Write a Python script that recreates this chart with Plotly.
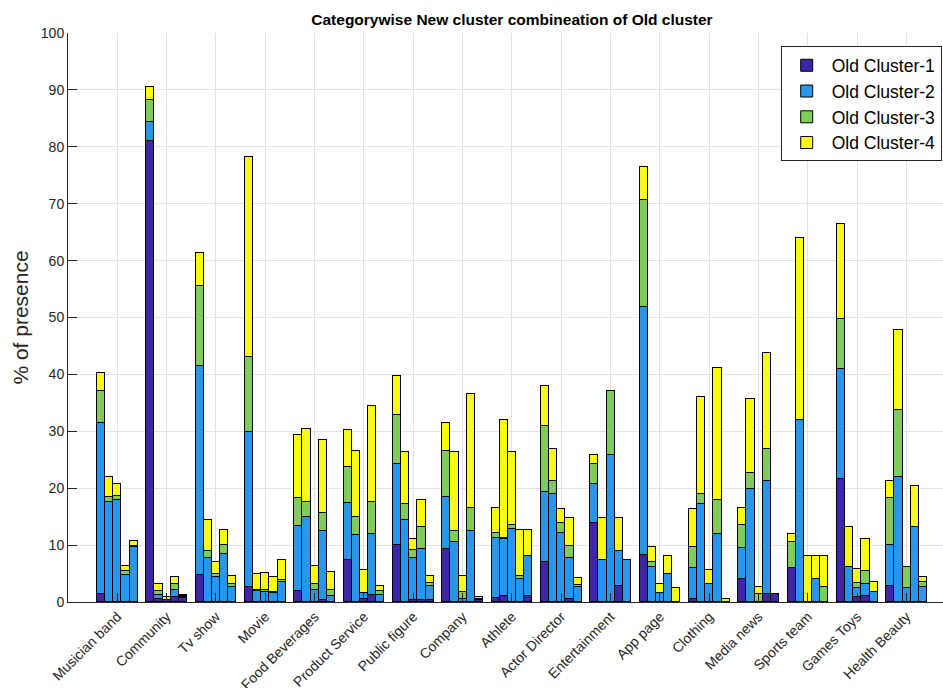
import numpy as np
import plotly.graph_objects as go

categories = ["Musician band", "Community", "Tv show", "Movie", "Food Beverages",
              "Product Service", "Public figure", "Company", "Athlete", "Actor Director",
              "Entertainment", "App page", "Clothing", "Media news", "Sports team",
              "Games Toys", "Health Beauty"]

series_names = ["Old Cluster-1", "Old Cluster-2", "Old Cluster-3", "Old Cluster-4"]

# each row: one category, 5 new-cluster bars
old_cluster_1 = [
    [1.35, 0, 0, 0, 0],
    [81.1, 0.47, 0.3, 0.9, 0.65],
    [4.7, 0, 0, 0, 0],
    [2.6, 0, 0, 0, 0],
    [2.0, 0, 0, 0.35, 0],
    [7.3, 0, 0.5, 1.3, 0],
    [10.1, 0, 0.4, 0.35, 0.35],
    [9.4, 0, 0, 0, 0.35],
    [0.76, 1.1, 0, 0, 1.1],
    [7.0, 0, 0, 0.6, 0],
    [13.8, 0, 0, 2.9, 0],
    [8.2, 0, 0, 0, 0],
    [0.6, 0, 0, 0, 0],
    [4.0, 0, 0, 1.35, 1.35],
    [6.0, 0, 0, 0, 0],
    [21.7, 0, 0.8, 1.0, 0],
    [2.9, 0, 0, 0, 0],
]
old_cluster_2 = [
    [30.05, 17.5, 17.9, 4.75, 9.67],
    [3.2, 0.76, 0, 1.2, 0.3],
    [36.8, 7.8, 4.45, 8.4, 2.7],
    [27.2, 2.0, 1.76, 1.64, 3.6],
    [11.4, 14.9, 2.05, 12.05, 1.1],
    [10.1, 11.7, 1.1, 10.6, 1.2],
    [14.1, 14.4, 7.4, 8.95, 2.55],
    [9.0, 10.5, 0.5, 12.4, 0.2],
    [10.44, 9.9, 12.8, 4.0, 6.9],
    [12.3, 19.0, 12.2, 7.2, 2.6],
    [6.9, 7.4, 25.8, 6.0, 7.4],
    [43.6, 6.15, 1.5, 5.0, 0],
    [5.4, 17.2, 3.1, 11.9, 0],
    [5.5, 19.9, 0, 19.85, 0],
    [0, 32.0, 0, 4.0, 0],
    [19.2, 6.1, 1.7, 2.2, 1.76],
    [7.1, 22.0, 2.5, 13.1, 2.6],
]
old_cluster_3 = [
    [5.7, 1.0, 0.8, 0.75, 0.2],
    [4.0, 0.76, 0.1, 1.0, 0.1],
    [14.1, 1.2, 0.55, 1.6, 0.5],
    [13.3, 0.15, 0.35, 0.1, 0.3],
    [4.8, 2.6, 1.15, 3.2, 0.95],
    [6.4, 3.2, 0, 5.6, 0.8],
    [8.6, 2.8, 1.4, 3.8, 0.4],
    [8.1, 2.0, 1.2, 4.1, 0],
    [0.9, 0.3, 0.7, 0.6, 0],
    [11.6, 2.2, 1.7, 2.0, 0.4],
    [3.5, 0, 11.2, 0, 0],
    [18.9, 0.85, 0, 0, 0],
    [3.6, 1.7, 0, 6.0, 0],
    [4.1, 2.8, 1.35, 5.7, 0],
    [4.5, 0, 0, 0, 2.6],
    [8.9, 0, 0.8, 2.2, 0],
    [8.2, 11.8, 3.65, 0, 0.9],
]
old_cluster_4 = [
    [3.1, 3.4, 2.0, 0.9, 0.9],
    [2.2, 1.1, 0.4, 1.3, 0.2],
    [5.7, 5.5, 2.0, 2.6, 1.3],
    [35.1, 2.75, 2.9, 2.6, 3.5],
    [11.1, 12.9, 3.1, 12.9, 3.15],
    [6.4, 11.7, 4.1, 17.0, 0.8],
    [7.0, 9.2, 1.8, 4.9, 1.2],
    [5.0, 13.8, 2.9, 20.1, 0.35],
    [4.4, 20.6, 12.8, 8.0, 4.6],
    [7.0, 5.7, 2.4, 4.9, 1.2],
    [1.7, 7.3, 0, 5.9, 0],
    [5.8, 2.7, 1.7, 3.1, 2.4],
    [6.7, 17.2, 2.6, 23.2, 0.6],
    [2.9, 12.9, 1.35, 16.9, 0],
    [1.5, 32.0, 8.0, 4.0, 5.4],
    [16.7, 7.0, 2.5, 5.6, 1.84],
    [3.1, 14.0, 0, 7.2, 0.9],
]

colors = ["#3e26a8", "#2796eb", "#80cc59", "#f9fb15"]
y_ticks = list(range(0, 101, 10))

n_groups = len(categories)
n_bars = 5
bar_w = 0.1656
cat_idx = np.arange(1, n_groups + 1)
offsets = (np.arange(n_bars) - (n_bars - 1) / 2) * bar_w
x_pos = (cat_idx[:, None] + offsets[None, :]).ravel()

fig = go.Figure()
for name, data, col in zip(series_names,
                           [old_cluster_1, old_cluster_2, old_cluster_3, old_cluster_4],
                           colors):
    fig.add_trace(go.Bar(
        x=x_pos, y=np.array(data).ravel(), name=name, width=bar_w,
        marker=dict(color=col, line=dict(color="#000000", width=1)),
    ))

font_family = "Liberation Sans, Arial, Helvetica, sans-serif"
axis_col = "#262626"
grid_col = "#e3e3e3"

W, H = 943, 688
ml, mr, mt, mb = 68, 0, 33, 86
unit_px = 49.33
x_right = (W - ml - mr) / unit_px

fig.update_layout(
    width=W, height=H,
    barmode="stack",
    bargap=0,
    plot_bgcolor="white", paper_bgcolor="white",
    margin=dict(l=ml, r=mr, t=mt, b=mb, autoexpand=False),
    font=dict(family=font_family, color=axis_col),
    title=dict(text="<b>Categorywise New cluster combineation of Old cluster</b>",
               x=(ml + 18 * unit_px / 2) / W, xref="container", xanchor="center",
               y=1 - 20 / H, yref="container", yanchor="middle",
               font=dict(size=15.5, color="#000000", family=font_family)),
    xaxis=dict(
        range=[0, x_right], tickmode="array", tickvals=list(cat_idx), ticktext=categories,
        tickangle=-45, tickfont=dict(size=14, color=axis_col),
        showgrid=True, gridcolor=grid_col, gridwidth=1,
        showline=True, linecolor=axis_col, linewidth=1,
        ticks="inside", ticklen=9, tickcolor=axis_col, zeroline=False,
    ),
    yaxis=dict(
        range=[0, 100], tickmode="array", tickvals=y_ticks,
        tickfont=dict(size=14, color=axis_col),
        showgrid=True, gridcolor=grid_col, gridwidth=1,
        showline=True, linecolor=axis_col, linewidth=1,
        ticks="inside", ticklen=9, tickcolor=axis_col, zeroline=False,
        title=dict(text="% of presence", font=dict(size=21, color=axis_col), standoff=6),
    ),
    legend=dict(
        x=(941.7 - ml) / (W - ml - mr), xanchor="right",
        y=(602 - 46.7) / (602 - 33.3), yanchor="top",
        bgcolor="white", bordercolor=axis_col, borderwidth=1,
        font=dict(size=17.5, color="#000000"), itemwidth=40,
        traceorder="normal", tracegroupgap=0,
    ),
)

fig.write_html("out.html", config={"displayModeBar": False},
               post_script="document.body.style.margin='0';document.body.style.padding='0';")
